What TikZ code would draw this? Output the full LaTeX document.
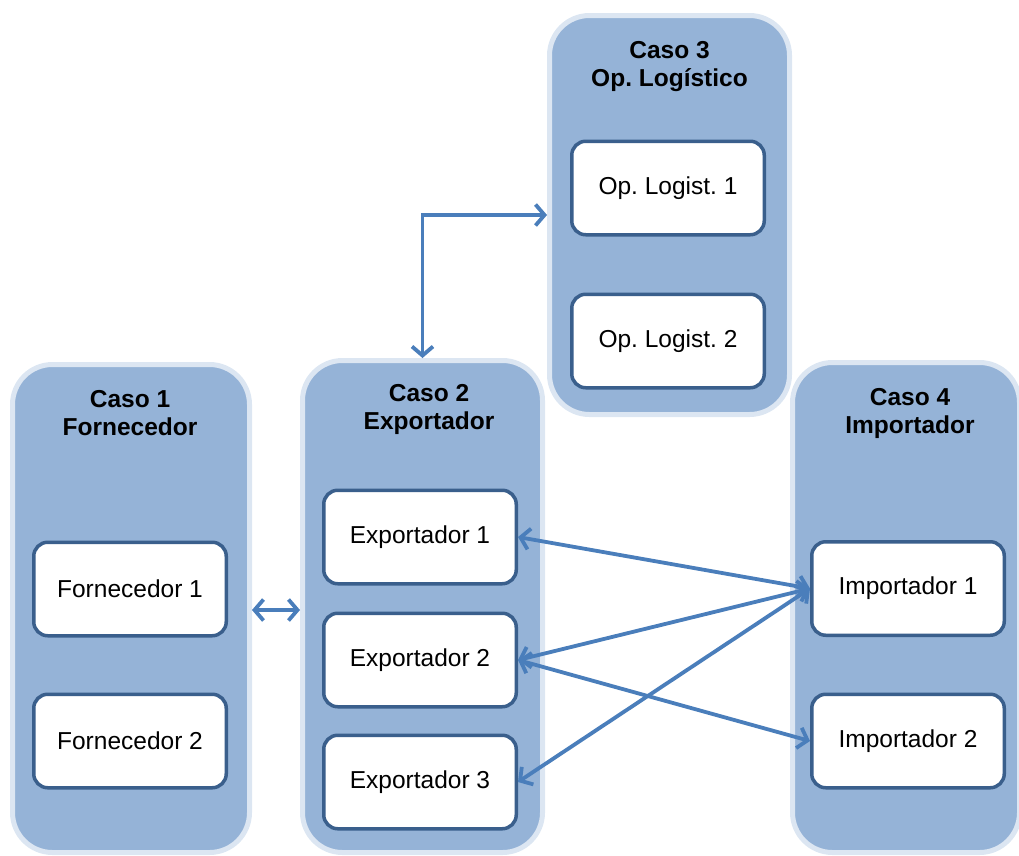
\documentclass[tikz,border=0pt]{standalone}
\usepackage{fontspec}
\setmainfont{Liberation Sans}
\usetikzlibrary{arrows.meta}
\definecolor{panelfill}{HTML}{95B3D7}
\definecolor{panelrim}{HTML}{DCE6F2}
\definecolor{boxline}{HTML}{3A5F8C}
\definecolor{linkblue}{HTML}{4A7EBB}
\frenchspacing
\begin{document}
\begin{tikzpicture}[x=1pt,y=-1pt,
  panel/.style={draw=panelrim, fill=panelfill, line width=5pt,
    rounded corners=40pt, rectangle, inner sep=0pt},
  title/.style={align=center, font=\fontsize{24.5}{28}\selectfont\bfseries,
    text=black, inner sep=0pt},
  entity/.style={draw=boxline, fill=white, line width=3.5pt, rounded corners=14pt,
    rectangle, minimum width=192.5pt, minimum height=93.5pt,
    font=\fontsize{24.5}{28}\selectfont, text=black},
  link/.style={draw=linkblue, line width=3.8pt,
    {Straight Barb[length=9pt,width=21pt]}-{Straight Barb[length=9pt,width=21pt]}}]
\useasboundingbox (0,0) rectangle (1019,855);
\clip (0,0) rectangle (1019,855);

% case panels
\node[panel, minimum width=237pt, minimum height=488pt] (p1) at (131,608.5) {};
\node[panel, minimum width=240pt, minimum height=492pt] (p2) at (422.5,606.5) {};
\node[panel, minimum width=240pt, minimum height=399pt] (p3) at (669.5,215) {};
\node[panel, minimum width=227pt, minimum height=490pt] (p4) at (906,607.5) {};

% panel titles
\node[title] (t1) at (130,413) {Caso 1\\Fornecedor};
\node[title] (t2) at (429,409) {Caso 2\\Exportador};
\node[title] (t3) at (669.5,67) {Caso 3\\Op. Logístico};
\node[title] (t4) at (910,413) {Caso 4\\Importador};

% entities
\node[entity] (f1) at (130,589) {Fornecedor 1};
\node[entity] (f2) at (130,741) {Fornecedor 2};
\node[entity] (e1) at (420,537) {Exportador 1};
\node[entity] (e2) at (420,660) {Exportador 2};
\node[entity] (e3) at (420,782) {Exportador 3};
\node[entity] (o1) at (668,188) {Op. Logist. 1};
\node[entity] (o2) at (668,341) {Op. Logist. 2};
\node[entity] (i1) at (908,588.5) {Importador 1};
\node[entity] (i2) at (908,741) {Importador 2};

% links
\coordinate (lvl) at (0,610);
\draw[link] (p1.east |- lvl) -- (p2.west |- lvl);
\draw[link] (p2.north) |- (p3.west);
\draw[link] (e1.east) -- (i1.west);
\draw[link] (e2.east) -- (i1.west);
\draw[link] (e2.east) -- (i2.west);
\draw[link] (e3.east) -- (i1.west);
\end{tikzpicture}
\end{document}
